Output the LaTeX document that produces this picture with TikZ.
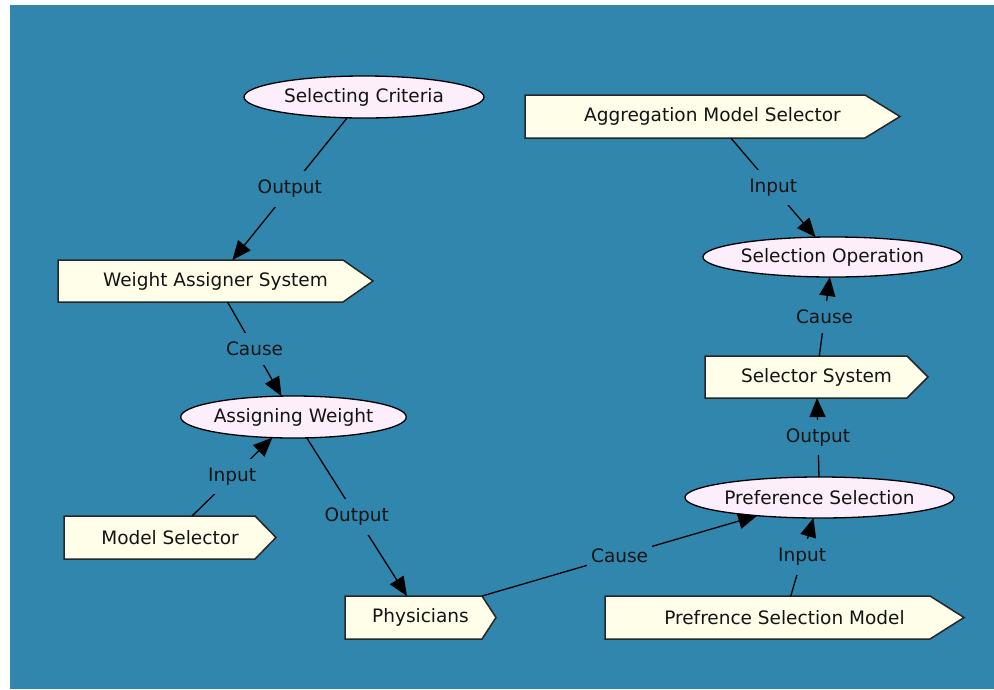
\documentclass[tikz,border=0pt]{standalone}
\usepackage{fontspec}
\setmainfont{DejaVu Sans}
\usetikzlibrary{shapes.geometric,arrows.meta,backgrounds}

\definecolor{canvasblue}{RGB}{49,134,173}
\definecolor{eventfill}{RGB}{253,238,252}
\definecolor{entityfill}{RGB}{255,254,233}
\definecolor{inktext}{RGB}{20,20,20}

% pentagon outline behind an entity node: #1 node name, #2 length of the point
\newcommand\entityoutline[2]{%
  \draw[entityline] (#1.north west) -- ([xshift=-#2pt]#1.north east) -- (#1.east)
    -- ([xshift=-#2pt]#1.south east) -- (#1.south west) -- cycle;}

\begin{document}
\begin{tikzpicture}[x=1pt,y=-1pt,
  every node/.style={font=\fontsize{18.5pt}{22pt}\selectfont, text=inktext},
  event/.style={ellipse, draw=black, line width=1.3pt, fill=eventfill,
    inner sep=0pt, outer sep=0pt},
  entity/.style={rectangle, draw=none, minimum height=43pt, inner sep=0pt,
    outer sep=0pt},
  entityline/.style={draw=black!85, line width=1.5pt, fill=entityfill,
    line join=miter},
  link/.style={draw=black, line width=1.3pt,
    -{Triangle[length=19pt,width=16pt]}},
  lbl/.style={fill=canvasblue, inner xsep=4pt, inner ysep=9pt}]

  % canvas
  \useasboundingbox (0,0) rectangle (994,689);

  % events
  \node[event, minimum width=240pt, minimum height=42pt] (sc) at (364,97) {Selecting Criteria};
  \node[event, minimum width=219pt, minimum height=42pt] (aw) at (293.5,417) {Assigning Weight};
  \node[event, minimum width=269pt, minimum height=41pt] (ps) at (819.5,497.5) {Preference Selection};
  \node[event, minimum width=255pt, minimum height=40pt] (so) at (832.5,257) {Selection Operation};

  % entities (text centred on the rectangular part)
  \node[entity, minimum width=315pt, minimum height=42pt] (was) at (215.5,281) {Weight Assigner System\hspace{30pt}};
  \node[entity, minimum width=212pt] (ms) at (170,537.5) {Model Selector\hspace{21pt}};
  \node[entity, minimum width=151pt] (phys) at (420.5,617.5) {Physicians\hspace{14pt}};
  \node[entity, minimum width=359pt] (psm) at (784.5,617.5) {Prefrence Selection Model\hspace{34pt}};
  \node[entity, minimum width=375pt] (ams) at (712.5,116.5) {Aggregation Model Selector\hspace{35pt}};
  \node[entity, minimum width=223pt, minimum height=42pt] (ss) at (816.5,377) {Selector System\hspace{21pt}};

  \begin{pgfonlayer}{background}
    \fill[white] (0,0) rectangle (994,689);
    \fill[canvasblue] (10,5) rectangle (994,689);
    \entityoutline{was}{30}
    \entityoutline{ms}{21}
    \entityoutline{phys}{14}
    \entityoutline{psm}{34}
    \entityoutline{ams}{35}
    \entityoutline{ss}{21}
  \end{pgfonlayer}

  % relations
  \draw[link] (sc) -- node[lbl] {Output} (was);
  \draw[link] (was) -- node[lbl] {Cause} (aw);
  \draw[link] (ms) -- node[lbl] {Input} (aw);
  \draw[link] (aw) -- node[lbl] {Output} (phys);
  \draw[link] ([xshift=-14pt]phys.north east) -- node[lbl] {Cause} (ps);
  \draw[link] (psm) -- node[lbl] {Input} (ps);
  \draw[link] (ps) -- node[lbl] {Output} (ss);
  \draw[link] (ss) -- node[lbl] {Cause} (so);
  \draw[link] (ams) -- node[lbl] {Input} (so);
\end{tikzpicture}
\end{document}
